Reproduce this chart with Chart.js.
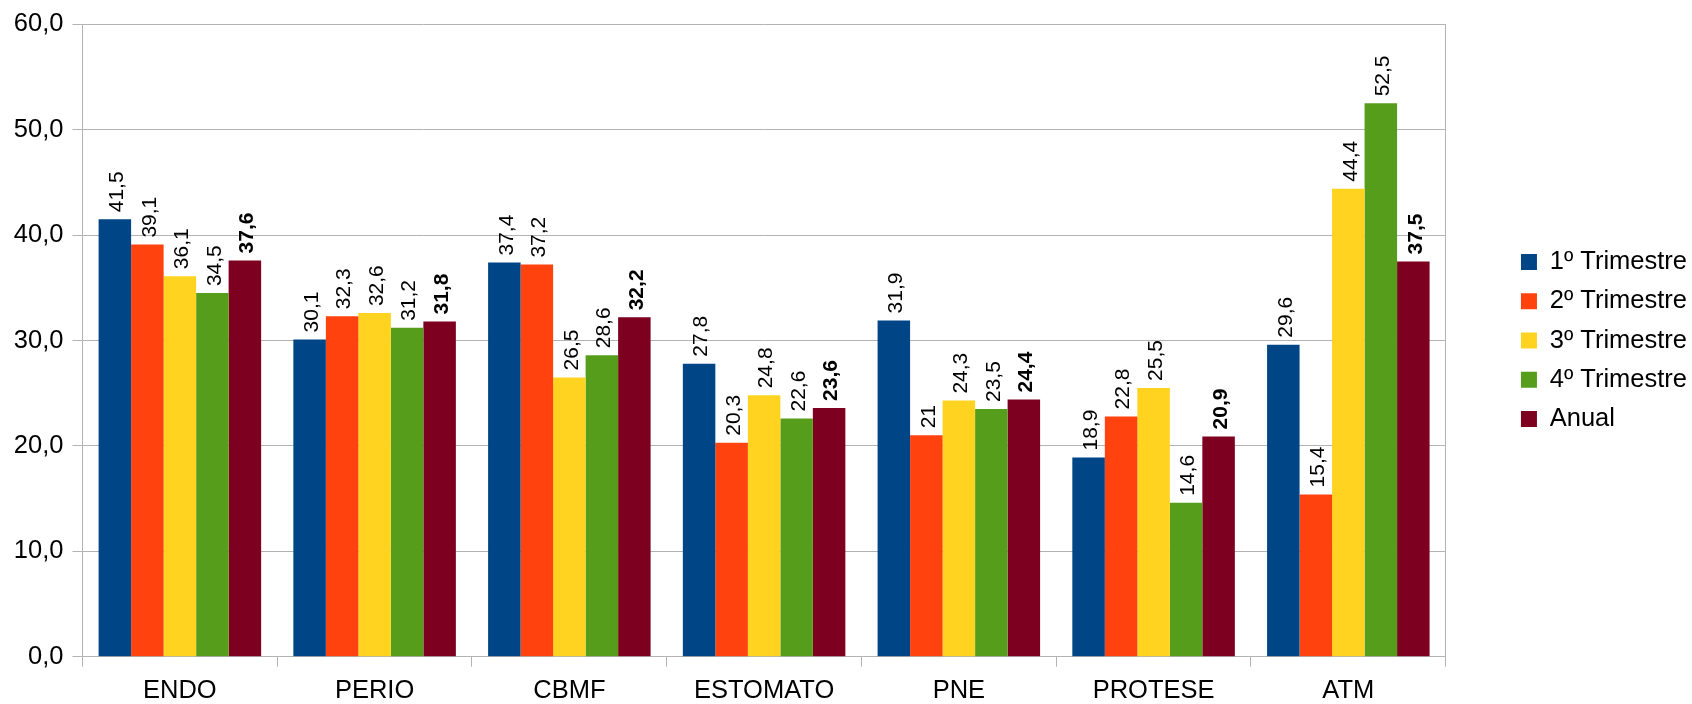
<!DOCTYPE html>
<html>
<head>
<meta charset="utf-8">
<script src="https://cdn.jsdelivr.net/npm/chart.js@4.4.1/dist/chart.umd.min.js"></script>
<style>
  html, body { margin: 0; padding: 0; background: #fff; }
  canvas { display: block; }
</style>
</head>
<body>
<canvas id="chart" width="1692" height="704"></canvas>
<script>
const categories = ["ENDO", "PERIO", "CBMF", "ESTOMATO", "PNE", "PROTESE", "ATM"];
const seriesNames = ["1º Trimestre", "2º Trimestre", "3º Trimestre", "4º Trimestre", "Anual"];
const trim1 = [41.5, 30.1, 37.4, 27.8, 31.9, 18.9, 29.6];
const trim2 = [39.1, 32.3, 37.2, 20.3, 21, 22.8, 15.4];
const trim3 = [36.1, 32.6, 26.5, 24.8, 24.3, 25.5, 44.4];
const trim4 = [34.5, 31.2, 28.6, 22.6, 23.5, 14.6, 52.5];
const anual = [37.6, 31.8, 32.2, 23.6, 24.4, 20.9, 37.5];
const yTicks = [0, 10, 20, 30, 40, 50, 60];
const colors = ["#004586", "#ff420e", "#ffd320", "#579d1c", "#7e0021"];

const FONT = "'Liberation Sans', Arial, sans-serif";
const GRID = "#b3b3b3";
Chart.defaults.font.family = FONT;
Chart.defaults.color = "#000";

const fmt = (v) => String(v).replace(".", ",");

// value labels, rotated, above each bar (Anual in bold)
const valueLabels = {
  id: "valueLabels",
  afterDatasetsDraw(chart) {
    const ctx = chart.ctx;
    chart.data.datasets.forEach((ds, i) => {
      const meta = chart.getDatasetMeta(i);
      const bold = i === seriesNames.length - 1;
      meta.data.forEach((bar, j) => {
        ctx.save();
        ctx.translate(bar.x + 2.5, bar.y - 7);
        ctx.rotate(-Math.PI / 2);
        ctx.font = (bold ? "bold " : "") + "21px " + FONT;
        ctx.fillStyle = "#000";
        ctx.textAlign = "left";
        ctx.textBaseline = "middle";
        ctx.fillText(fmt(ds.data[j]), 0, 0);
        ctx.restore();
      });
    });
  },
};

const series = [trim1, trim2, trim3, trim4, anual];

new Chart(document.getElementById("chart"), {
  type: "bar",
  data: {
    labels: categories,
    datasets: series.map((data, i) => ({
      label: seriesNames[i],
      data: data,
      backgroundColor: colors[i],
      borderWidth: 0,
      categoryPercentage: 0.8345,
      barPercentage: 1,
    })),
  },
  options: {
    responsive: false,
    animation: false,
    layout: { padding: { top: 22.5, right: -5, bottom: 0, left: 0 } },
    plugins: {
      tooltip: { enabled: false },
      legend: {
        position: "right",
        fullSize: false,
        labels: {
          boxWidth: 16,
          boxHeight: 16,
          padding: 13.75,
          color: "#000",
          font: { size: 25.5 },
        },
      },
    },
    scales: {
      x: {
        grid: { drawOnChartArea: false, drawTicks: true, tickLength: 10, offset: true, color: GRID },
        border: { color: GRID },
        ticks: { color: "#000", font: { size: 25.5 }, padding: 9, maxRotation: 0, autoSkip: false },
        afterFit: (s) => { s.height = 47.3; },
      },
      y: {
        min: yTicks[0],
        max: yTicks[yTicks.length - 1],
        ticks: {
          stepSize: yTicks[1] - yTicks[0],
          color: "#000",
          font: { size: 25.5 },
          padding: 9,
          callback: (v) => v.toFixed(1).replace(".", ","),
        },
        grid: { color: GRID, tickLength: 10 },
        border: { color: GRID },
        afterFit: (s) => { s.width = 82.5; },
      },
      // empty right axis: closes the plot frame and spaces the legend
      y2: {
        position: "right",
        grid: { drawOnChartArea: false, drawTicks: false },
        ticks: { display: false },
        border: { color: GRID },
        afterFit: (s) => { s.width = 61.5; },
      },
    },
  },
  plugins: [valueLabels],
});
</script>
</body>
</html>
